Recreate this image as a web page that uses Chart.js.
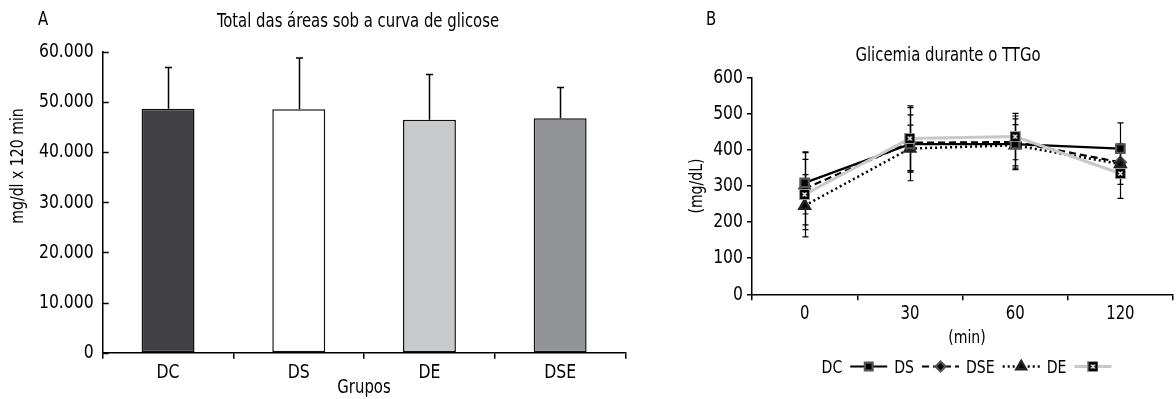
<!DOCTYPE html>
<html>
<head>
<meta charset="utf-8">
<script src="https://cdn.jsdelivr.net/npm/chart.js@4.4.1/dist/chart.umd.min.js"></script>
<style>
html, body { margin: 0; padding: 0; background: #fff; overflow: hidden; width: 1176px; height: 399px; }
#grafA { position: absolute; left: 0; top: 0; }
#grafB { position: absolute; left: 680px; top: 0; }
</style>
</head>
<body>
<canvas id="grafA" width="650" height="399"></canvas>
<canvas id="grafB" width="502" height="399"></canvas>
<script>
// --- Dados do painel A: área sob a curva (mg/dl x 120 min) ---
var grupos = ['DC', 'DS', 'DE', 'DSE'];
var areaMedia = [48700, 48600, 46500, 46800];
var areaDP = [8200, 10200, 9000, 6100];
var rotulosA = ['0', '10.000', '20.000', '30.000', '40.000', '50.000', '60.000'];

// --- Dados do painel B: glicemia durante o TTGo (mg/dL) ---
var tempos = ['0', '30', '60', '120'];
var glicDC = [308, 415, 415, 403];
var dpDC = [86, 101, 70, 71];
var glicDS = [292, 419, 421, 365];
var dpDS = [100, 77, 72, 40];
var glicDSE = [245, 403, 412, 360];
var dpDSE = [86, 65, 57, 56];
var glicDE = [276, 431, 436, 334];
var dpDE = [97, 90, 64, 69];
var rotulosB = ['0', '100', '200', '300', '400', '500', '600'];

// fonte condensada (não há Helvetica Condensed, então aperto a DejaVu na horizontal)
var FONTE = "'DejaVu Sans Condensed', 'DejaVu Sans', sans-serif";
var ESTREITO = 0.87;
Chart.defaults.font.family = FONTE;
Chart.defaults.color = '#000';

function escreve(ctx, texto, x, y, tam, alinh, base, rot) {
    ctx.save();
    ctx.translate(x, y);
    if (rot) ctx.rotate(rot);
    ctx.scale(ESTREITO, 1);
    ctx.font = tam + 'px ' + FONTE;
    ctx.fillStyle = '#000';
    ctx.textAlign = alinh;
    ctx.textBaseline = base;
    ctx.fillText(texto, 0, 0);
    ctx.restore();
}

// quadrado preto com um X branco (marcador do grupo DE)
function marcadorX(lado) {
    var c = document.createElement('canvas');
    c.width = lado;
    c.height = lado;
    var g = c.getContext('2d');
    g.fillStyle = '#9a9a9a';
    g.fillRect(0, 0, lado, lado);
    g.fillStyle = '#000';
    g.fillRect(1, 1, lado - 2, lado - 2);
    g.strokeStyle = '#fff';
    g.lineWidth = 1.4;
    g.beginPath();
    g.moveTo(3.5, 3.5); g.lineTo(lado - 3.5, lado - 3.5);
    g.moveTo(lado - 3.5, 3.5); g.lineTo(3.5, lado - 3.5);
    g.stroke();
    return c;
}
var quadX = marcadorX(11);

// barras de erro (desvio padrão) desenhadas pela escala y
var barrasErro = {
    id: 'barrasErro',
    beforeDatasetsDraw: function(chart, args, opts) {
        if (opts.atras) desenhaErros(chart, opts);
    },
    afterDatasetsDraw: function(chart, args, opts) {
        if (!opts.atras) desenhaErros(chart, opts);
    }
};
function desenhaErros(chart, opts) {
    var ctx = chart.ctx;
    var escala = chart.scales.y;
    ctx.save();
    ctx.strokeStyle = '#000';
    ctx.lineWidth = opts.largura || 1.2;
    chart.data.datasets.forEach(function(ds, i) {
        if (!ds.erro) return;
        chart.getDatasetMeta(i).data.forEach(function(el, j) {
            var v = ds.data[j];
            var e = ds.erro[j];
            var x = Math.round(el.x) + 0.5;
            var yCima = escala.getPixelForValue(v + e);
            var yBaixo = opts.soCima ? escala.getPixelForValue(v) : escala.getPixelForValue(v - e);
            ctx.beginPath();
            ctx.moveTo(x, yBaixo);
            ctx.lineTo(x, yCima);
            ctx.moveTo(x - opts.cap, yCima);
            ctx.lineTo(x + opts.cap, yCima);
            if (!opts.soCima) {
                ctx.moveTo(x - opts.cap, yBaixo);
                ctx.lineTo(x + opts.cap, yBaixo);
            }
            ctx.stroke();
        });
    });
    ctx.restore();
}

// rótulos dos eixos nas posições das marcas da própria escala
var rotulos = {
    id: 'rotulos',
    afterDraw: function(chart, args, opts) {
        var ctx = chart.ctx;
        var sx = chart.scales.x;
        var sy = chart.scales.y;
        opts.x.lista.forEach(function(t, i) {
            escreve(ctx, t, sx.getPixelForTick(i), opts.x.y, opts.x.tam, 'center', 'alphabetic');
        });
        opts.y.lista.forEach(function(t, i) {
            escreve(ctx, t, sy.right - opts.y.dx, sy.getPixelForTick(i), opts.y.tam, 'right', 'middle');
        });
    }
};

// textos soltos (letras dos painéis, títulos, rótulos dos eixos)
var textos = {
    id: 'textos',
    afterDraw: function(chart, args, opts) {
        opts.lista.forEach(function(t) {
            escreve(chart.ctx, t.t, t.x, t.y, t.tam, 'center', t.rot ? 'middle' : 'alphabetic', t.rot);
        });
    }
};

// marcas do eixo y do painel A viradas para dentro
var ticksDentro = {
    id: 'ticksDentro',
    afterDraw: function(chart) {
        var s = chart.scales.y;
        var ctx = chart.ctx;
        ctx.save();
        ctx.strokeStyle = '#000';
        ctx.lineWidth = 1.5;
        s.ticks.forEach(function(t, i) {
            var py = Math.round(s.getPixelForTick(i)) + 0.5;
            ctx.beginPath();
            ctx.moveTo(s.right, py);
            ctx.lineTo(s.right + 6, py);
            ctx.stroke();
        });
        ctx.restore();
    }
};

// legenda do painel B: texto primeiro, depois a amostra de linha com o marcador
var legendaB = {
    id: 'legendaB',
    afterDraw: function(chart, args, opts) {
        var ctx = chart.ctx;
        var dss = chart.data.datasets;
        ctx.save();
        ctx.font = opts.tam + 'px ' + FONTE;
        var larg = dss.map(function(ds) { return ctx.measureText(ds.label).width * ESTREITO; });
        var total = 0;
        dss.forEach(function(ds, i) {
            total += larg[i] + opts.gap1 + opts.linha;
            if (i < dss.length - 1) total += opts.gap2;
        });
        var x = opts.centro - total / 2;
        var yL = opts.y - opts.tam * 0.36;
        dss.forEach(function(ds, i) {
            escreve(ctx, ds.label, x, opts.y, opts.tam, 'left', 'alphabetic');
            x += larg[i] + opts.gap1;
            ctx.save();
            ctx.strokeStyle = ds.borderColor;
            ctx.lineWidth = ds.borderWidth;
            ctx.setLineDash(ds.borderDash || []);
            ctx.beginPath();
            ctx.moveTo(x, yL);
            ctx.lineTo(x + opts.linha, yL);
            ctx.stroke();
            ctx.setLineDash([]);
            ctx.fillStyle = ds.pointBackgroundColor;
            ctx.strokeStyle = ds.pointBorderColor;
            Chart.helpers.drawPoint(ctx, {
                pointStyle: ds.pointStyle,
                radius: ds.pointRadius - 0.5,
                rotation: 0,
                borderWidth: 1
            }, x + opts.linha / 2, yL);
            ctx.restore();
            x += opts.linha + opts.gap2;
        });
        ctx.restore();
    }
};

// --- Painel A: barras ---
new Chart(document.getElementById('grafA'), {
    type: 'bar',
    data: {
        labels: grupos,
        datasets: [{
            data: areaMedia,
            erro: areaDP,
            backgroundColor: ['#414143', '#ffffff', '#c8c9cb', '#939497'],
            borderColor: '#111',
            borderWidth: 1.5,
            borderSkipped: false,
            categoryPercentage: 1,
            barPercentage: 0.405
        }]
    },
    options: {
        responsive: false,
        animation: false,
        layout: { padding: { top: 52, right: 24.5, left: 0, bottom: 0 } },
        plugins: {
            legend: { display: false },
            tooltip: { enabled: false },
            barrasErro: { soCima: true, cap: 3.5, largura: 1.5 },
            rotulos: {
                x: { lista: grupos, y: 378, tam: 20 },
                y: { lista: rotulosA, dx: 9, tam: 20 }
            },
            textos: {
                lista: [
                    { t: 'A', x: 43, y: 25, tam: 19 },
                    { t: 'Total das áreas sob a curva de glicose', x: 358, y: 27, tam: 19 },
                    { t: 'mg/dl x 120 min', x: 18, y: 166, tam: 18, rot: -Math.PI / 2 },
                    { t: 'Grupos', x: 364, y: 393, tam: 19 }
                ]
            }
        },
        scales: {
            x: {
                grid: { display: true, drawOnChartArea: false, offset: true, tickLength: 6, color: '#000', lineWidth: 1.5 },
                border: { color: '#000', width: 1.5 },
                ticks: { display: false },
                afterFit: function(s) { s.height = 46.3; }
            },
            y: {
                min: 0,
                max: 60000,
                ticks: { stepSize: 10000, display: false },
                grid: { display: true, drawOnChartArea: false, drawTicks: false },
                border: { color: '#000', width: 1.5 },
                afterFit: function(s) { s.width = 102.7; }
            }
        }
    },
    plugins: [barrasErro, rotulos, textos, ticksDentro]
});

// --- Painel B: linhas ---
new Chart(document.getElementById('grafB'), {
    type: 'line',
    data: {
        labels: tempos,
        datasets: [{
            label: 'DC',
            data: glicDC,
            erro: dpDC,
            order: 1,
            borderColor: '#000',
            borderWidth: 2.2,
            pointStyle: 'rect',
            pointRadius: 6,
            pointBackgroundColor: '#000',
            pointBorderColor: '#555'
        }, {
            label: 'DS',
            data: glicDS,
            erro: dpDS,
            order: 3,
            borderColor: '#000',
            borderWidth: 2.2,
            borderDash: [7, 4],
            pointStyle: 'rectRot',
            pointRadius: 5.5,
            pointBackgroundColor: '#000',
            pointBorderColor: '#555'
        }, {
            label: 'DSE',
            data: glicDSE,
            erro: dpDSE,
            order: 2,
            borderColor: '#000',
            borderWidth: 2.5,
            borderDash: [2, 3],
            pointStyle: 'triangle',
            pointRadius: 6,
            pointBackgroundColor: '#000',
            pointBorderColor: '#222'
        }, {
            label: 'DE',
            data: glicDE,
            erro: dpDE,
            order: 0,
            borderColor: '#c8c8c8',
            borderWidth: 3,
            pointStyle: quadX,
            pointRadius: 6,
            pointBackgroundColor: '#000',
            pointBorderColor: '#999'
        }]
    },
    options: {
        responsive: false,
        animation: false,
        elements: { line: { tension: 0 } },
        layout: { padding: { top: 77.3, right: 0, left: 0, bottom: 0 } },
        plugins: {
            legend: { display: false },
            tooltip: { enabled: false },
            barrasErro: { atras: true, cap: 3, largura: 1.2 },
            rotulos: {
                x: { lista: tempos, y: 319, tam: 19 },
                y: { lista: rotulosB, dx: 9, tam: 20 }
            },
            textos: {
                lista: [
                    { t: 'B', x: 31, y: 25, tam: 19 },
                    { t: 'Glicemia durante o TTGo', x: 268, y: 61, tam: 19 },
                    { t: '(mg/dL)', x: 17, y: 186, tam: 18, rot: -Math.PI / 2 },
                    { t: '(min)', x: 287, y: 343, tam: 18 }
                ]
            },
            legendaB: { centro: 286.5, y: 373, tam: 18, gap1: 8, linha: 37, gap2: 7 }
        },
        scales: {
            x: {
                offset: true,
                grid: { display: true, drawOnChartArea: false, offset: true, tickLength: 6, color: '#000', lineWidth: 1.5 },
                border: { color: '#000', width: 1.5 },
                ticks: { display: false },
                afterFit: function(s) { s.height = 104.7; }
            },
            y: {
                min: 0,
                max: 600,
                ticks: { stepSize: 100, display: false },
                grid: { display: true, drawOnChartArea: false, tickLength: 5, color: '#000', lineWidth: 1.5 },
                border: { color: '#000', width: 1.5 },
                afterFit: function(s) { s.width = 72; }
            }
        }
    },
    plugins: [barrasErro, rotulos, textos, legendaB]
});
</script>
</body>
</html>
